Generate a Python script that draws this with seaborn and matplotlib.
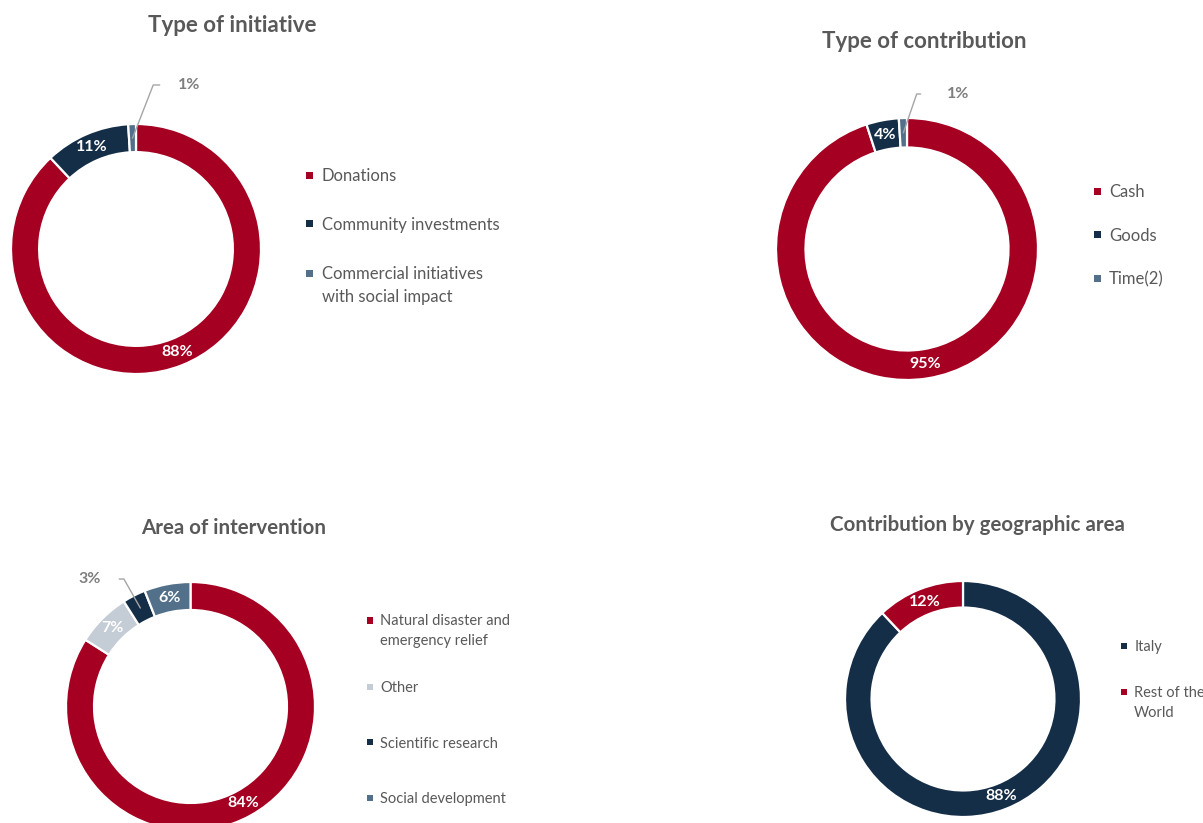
import numpy as np
import matplotlib.pyplot as plt
from matplotlib.patches import Patch, Rectangle
from matplotlib.legend_handler import HandlerPatch
import seaborn as sns

sns.set_theme(style="white")
plt.rcParams["font.family"] = ["Lato", "DejaVu Sans"]

# ----------------------------
# data (percentages)
# ----------------------------
initiative_labels = ["Donations", "Community investments",
                     "Commercial initiatives\nwith social impact"]
initiative_values = [88, 11, 1]

contribution_labels = ["Cash", "Goods", "Time(2)"]
contribution_values = [95, 4, 1]

area_labels = ["Natural disaster and\nemergency relief", "Other",
               "Scientific research", "Social development"]
area_values = [84, 7, 3, 6]

geo_labels = ["Italy", "Rest of the\nWorld"]
geo_values = [88, 12]

RED = "#A50021"
NAVY = "#152E48"
SLATE = "#527089"
LIGHT = "#C4CCD6"
GREY_TXT = "#595959"
GREY_LBL = "#7F7F7F"

W, H = 1203, 823
RING = 0.225
LINESP = 1.55

fig = plt.figure(figsize=(W / 100, H / 100), dpi=100)


def px(x, y):
    return x / W, 1 - y / H


def square_handler(nlines):
    # small square, aligned with the first line of the label
    def make(legend, orig_handle, xdescent, ydescent, width, height, fontsize):
        s = 0.42 * fontsize
        yc = 0.36 * fontsize + (nlines - 1) * 0.5 * LINESP * 0.98 * fontsize
        return Rectangle((width / 2 - xdescent - s / 2, yc - s / 2), s, s)
    return HandlerPatch(patch_func=make)


def draw_ring(cx, cy, r, values, colors):
    ax = fig.add_axes([(cx - r) / W, 1 - (cy + r) / H, 2 * r / W, 2 * r / H])
    wedges, _ = ax.pie(values, colors=colors, startangle=90, counterclock=False,
                       wedgeprops=dict(width=RING, edgecolor="white", linewidth=1.6))
    for w in wedges:
        w.set_clip_on(False)
    ax.set_xlim(-1, 1)
    ax.set_ylim(-1, 1)
    ax.axis("off")
    return ax, wedges


def mid_point(w, rad=1 - RING / 2):
    a = np.deg2rad((w.theta1 + w.theta2) / 2)
    return rad * np.cos(a), rad * np.sin(a)


def inside_labels(ax, wedges, values, skip=()):
    for i, (w, v) in enumerate(zip(wedges, values)):
        if i in skip:
            continue
        x, y = mid_point(w)
        ax.text(x, y, f"{v}%", ha="center", va="center", color="white",
                fontsize=11.5, fontweight="bold")


def leader_label(ax, wedge, value, xytext, angle, side, gap):
    ax.annotate(f"{value}%", xy=mid_point(wedge), xytext=xytext,
                ha=side, va="center", color=GREY_LBL, fontsize=11.5,
                fontweight="bold",
                arrowprops=dict(arrowstyle="-", color="#A5A5A5", lw=1.0,
                                shrinkA=gap, shrinkB=0,
                                relpos=(0 if side == "left" else 1, 0.5),
                                connectionstyle=f"angle,angleA=0,angleB={angle},rad=0"))


def add_legend(ax, labels, colors, xy, fs, spacing, handleh=0.7):
    handles = [Patch(facecolor=c, edgecolor="none") for c in colors]
    hmap = {h: square_handler(lab.count("\n") + 1) for h, lab in zip(handles, labels)}
    leg = ax.legend(handles, labels, handler_map=hmap, loc="center left",
                    bbox_to_anchor=px(*xy), bbox_transform=fig.transFigure,
                    frameon=False, fontsize=fs, labelcolor=GREY_TXT,
                    handlelength=0.7, handleheight=handleh, handletextpad=0.35,
                    labelspacing=spacing, borderpad=0, borderaxespad=0)
    for t in leg.get_texts():
        t.set_linespacing(LINESP)
    return leg


def title(x, y, s, size):
    fig.text(*px(x, y), s, ha="center", va="center", fontsize=size,
             fontweight="bold", color=GREY_TXT)


# ----------------------------
# 1. Type of initiative
# ----------------------------
ax1, w1 = draw_ring(136, 249, 125, initiative_values, [RED, NAVY, SLATE])
inside_labels(ax1, w1, initiative_values, skip=(2,))
leader_label(ax1, w1[2], initiative_values[2], (0.336, 1.312), 68.7, "left", 10.8)
add_legend(ax1, initiative_labels, [RED, NAVY, SLATE], (304, 236.5), 12, 1.97)
title(232.5, 26, "Type of initiative", 16)

# ----------------------------
# 2. Type of contribution
# ----------------------------
ax2, w2 = draw_ring(907, 249, 131, contribution_values, [RED, NAVY, SLATE])
inside_labels(ax2, w2, contribution_values, skip=(2,))
leader_label(ax2, w2[2], contribution_values[2], (0.305, 1.183), 71, "left", 16.6)
add_legend(ax2, contribution_labels, [RED, NAVY, SLATE], (1091.7, 236), 12, 1.65)
title(924, 42, "Type of contribution", 16)

# ----------------------------
# 3. Area of intervention
# ----------------------------
ax3, w3 = draw_ring(190.5, 706.5, 124.5, area_values, [RED, LIGHT, NAVY, SLATE])
inside_labels(ax3, w3, area_values, skip=(2,))
leader_label(ax3, w3[2], area_values[2], (-0.719, 1.024), 119.5, "right", 10.8)
add_legend(ax3, area_labels, [RED, LIGHT, NAVY, SLATE], (364.9, 716), 10.5, 0.95,
           handleh=4.0)
title(234, 528, "Area of intervention", 14.8)

# ----------------------------
# 4. Contribution by geographic area
# ----------------------------
ax4, w4 = draw_ring(963, 699, 118, geo_values, [NAVY, RED])
inside_labels(ax4, w4, geo_values)
add_legend(ax4, geo_labels, [NAVY, RED], (1118.9, 680), 10.5, 2.2)
title(977, 525, "Contribution by geographic area", 14.8)

fig.savefig("out.png", dpi=100, facecolor="white")
